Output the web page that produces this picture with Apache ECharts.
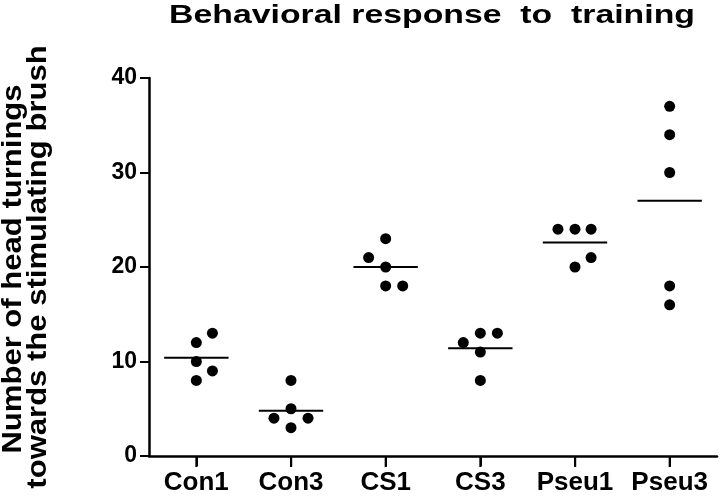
<!DOCTYPE html>
<html>
<head>
<meta charset="utf-8">
<style>html,body{margin:0;padding:0;background:#fff;}#c{width:720px;height:496px;}</style>
<script src="https://cdn.jsdelivr.net/npm/echarts@6/dist/echarts.min.js"></script>
</head>
<body>
<div id="c"></div>
<script>
var categories = ['Con1', 'Con3', 'CS1', 'CS3', 'Pseu1', 'Pseu3'];
var con1 = [13, 12, 10, 9, 8];
var con3 = [8, 5, 4, 4, 3];
var cs1 = [23, 21, 20, 18, 18];
var cs3 = [13, 13, 12, 11, 8];
var pseu1 = [24, 24, 24, 21, 20];
var pseu3 = [37, 34, 30, 18, 16];
var groupValues = [con1, con3, cs1, cs3, pseu1, pseu3];
// horizontal scatter spread of each dot within its category (category units)
var spread = [
  [0.17, 0, 0, 0.17, 0],
  [0, 0, -0.18, 0.18, 0],
  [0, -0.18, 0, 0, 0.18],
  [0, 0.18, -0.18, 0, 0],
  [-0.18, 0, 0.17, 0.17, 0],
  [0, 0, 0, 0, 0]
];
var means = [10.4, 4.8, 20, 11.4, 22.6, 27];
var yTicks = [0, 10, 20, 30, 40];

var pts = [];
groupValues.forEach(function (vals, i) {
  vals.forEach(function (v, j) { pts.push([i + spread[i][j], v]); });
});
var meanData = means.map(function (m, i) { return [i, m]; });
var tickData = categories.map(function (c, i) { return [i, 0]; });

var FONT = '"Liberation Sans", Arial, sans-serif';
var chart = echarts.init(document.getElementById('c'));
chart.setOption({
  animation: false,
  backgroundColor: '#fff',
  grid: { left: 149, right: 3, top: 78, bottom: 40, containLabel: false },
  xAxis: [{
    type: 'category',
    position: 'bottom',
    data: categories,
    boundaryGap: true,
    axisLine: { show: true, onZero: false, lineStyle: { color: '#000', width: 2.5 } },
    axisTick: { show: true, inside: false, alignWithLabel: true, interval: 0, length: 10, lineStyle: { color: '#000', width: 2 } },
    axisLabel: { color: '#000', fontSize: 26, fontWeight: 'bold', fontFamily: FONT, margin: 14,
      interval: 0, hideOverlap: false },
    splitLine: { show: false }
  }, {
    type: 'value', position: 'top', min: -0.5, max: 5.5, show: false
  }],
  yAxis: {
    type: 'value', min: 0, max: 40, interval: 10,
    axisLine: { show: true, onZero: false, lineStyle: { color: '#000', width: 2.5 } },
    axisTick: { show: true, length: 9, lineStyle: { color: '#000', width: 2 } },
    axisLabel: { color: '#000', fontSize: 23, fontWeight: 'bold', fontFamily: FONT, margin: 12,
      formatter: function (v) { return yTicks.indexOf(v) >= 0 ? String(v) : ''; } },
    splitLine: { show: false }
  },
  graphic: [
    { type: 'text', x: 432, y: 16, scaleX: 1.3,
      style: { text: 'Behavioral response  to  training', font: 'bold 26px ' + FONT, fill: '#000', align: 'center', verticalAlign: 'middle' } },
    { type: 'text', x: 14, y: 269, rotation: Math.PI / 2, scaleX: 1.15,
      style: { text: 'Number of head turnings', font: 'bold 27px ' + FONT, fill: '#000', align: 'center', verticalAlign: 'middle' } },
    { type: 'text', x: 39, y: 267, rotation: Math.PI / 2, scaleX: 1.15,
      style: { text: 'towards the stimulating brush', font: 'bold 27px ' + FONT, fill: '#000', align: 'center', verticalAlign: 'middle' } }
  ],
  series: [{
    type: 'scatter',
    xAxisIndex: 1,
    data: pts,
    symbol: 'circle',
    symbolSize: 11,
    itemStyle: { color: '#000', opacity: 1 }
  }, {
    type: 'custom',
    xAxisIndex: 1,
    clip: false,
    data: meanData,
    renderItem: function (params, api) {
      var i = api.value(0), m = api.value(1);
      var a = api.coord([i - 0.34, m]);
      var b = api.coord([i + 0.34, m]);
      return { type: 'line', shape: { x1: a[0], y1: a[1], x2: b[0], y2: b[1] },
        style: { stroke: '#000', lineWidth: 2 } };
    }
  }, {
    type: 'custom',
    xAxisIndex: 1,
    clip: false,
    z: 50,
    data: tickData,
    renderItem: function (params, api) {
      var t = api.coord([api.value(0), api.value(1)]);
      return { type: 'rect', shape: { x: t[0] - 1, y: t[1], width: 2.2, height: 11 },
        style: { fill: '#000' } };
    }
  }]
});
</script>
</body>
</html>
